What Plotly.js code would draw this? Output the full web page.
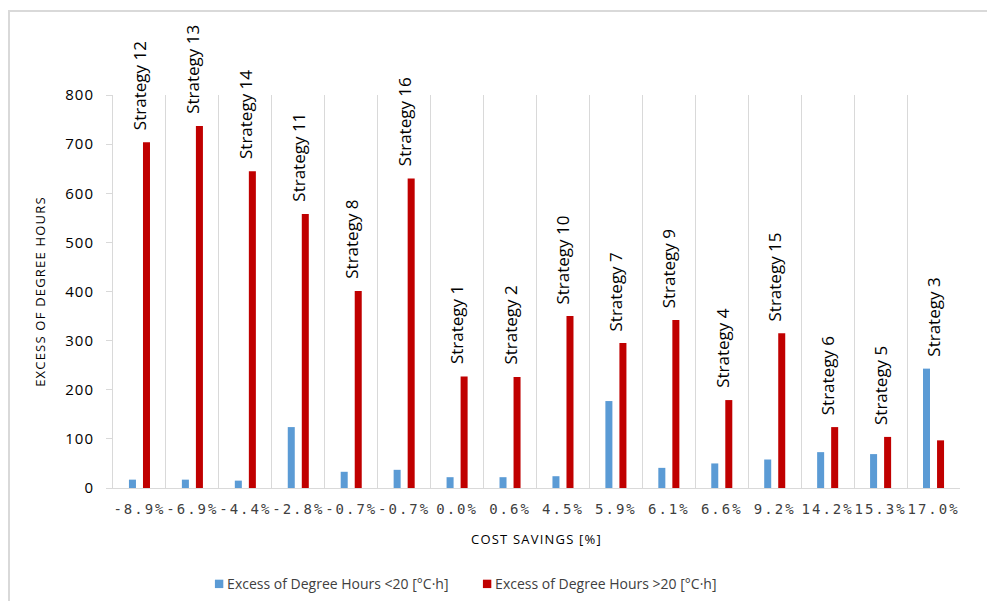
<!DOCTYPE html>
<html>
<head>
<meta charset="utf-8">
<script src="https://cdn.plot.ly/plotly-3.0.1.min.js"></script>
<style>
  html, body { margin: 0; padding: 0; background: #fff; }
  #wrap { position: relative; width: 987px; height: 601px; }
  #chart { width: 987px; height: 601px; }
  #frame { position: absolute; left: 8px; top: 10px; right: 0; bottom: 0;
           border-left: 2px solid #d9d9d9; border-top: 2px solid #d9d9d9; pointer-events: none; }
  .xtick text { letter-spacing: 2px; }
  .ytick text { letter-spacing: 1px; }
  .g-xtitle text, .g-ytitle text { letter-spacing: 1.2px; }
  .legend .scrollbox { clip-path: none !important; }
  .legend .legendpoints { transform: translate(18px, 0px) scale(0.7); }
</style>
</head>
<body>
<div id="wrap">
  <div id="chart"></div>
  <div id="frame"></div>
</div>
<script>
const categories = ["-8.9%","-6.9%","-4.4%","-2.8%","-0.7%","-0.7%","0.0%","0.6%","4.5%","5.9%","6.1%","6.6%","9.2%","14.2%","15.3%","17.0%"];
const strategies = ["Strategy 12","Strategy 13","Strategy 14","Strategy 11","Strategy 8","Strategy 16","Strategy 1","Strategy 2","Strategy 10","Strategy 7","Strategy 9","Strategy 4","Strategy 15","Strategy 6","Strategy 5","Strategy 3"];
const below20 = [17, 17, 15, 124, 33, 37, 22, 22, 24, 177, 41, 50, 58, 73, 69, 243];
const above20 = [704, 737, 645, 558, 401, 630, 227, 226, 350, 295, 342, 179, 315, 124, 104, 97];
const seriesNames = ["Excess of Degree Hours <20 [°C·h]", "Excess of Degree Hours >20 [°C·h]"];
const yTicks = [0, 100, 200, 300, 400, 500, 600, 700, 800];

const idx = categories.map((_, i) => i);
const font = "Open Sans, Noto Sans, sans-serif";

const traces = [
  { type: "bar", name: seriesNames[0], x: idx, y: below20, marker: { color: "#5B9BD5" } },
  { type: "bar", name: seriesNames[1], x: idx, y: above20, marker: { color: "#C00000" } }
];

const annotations = idx.map(i => ({
  x: i, y: Math.max(below20[i], above20[i]), xref: "x", yref: "y",
  text: strategies[i], textangle: -90, showarrow: false,
  xanchor: "center", yanchor: "bottom", yshift: 10,
  font: { family: font, size: 17, color: "#000" }
}));

const layout = {
  width: 987, height: 601,
  margin: { l: 113, r: 27, t: 95, b: 113, autoexpand: false },
  paper_bgcolor: "#fff", plot_bgcolor: "#fff",
  barmode: "group", bargap: 0.47, bargroupgap: 0.5,
  showlegend: true,
  legend: { orientation: "h", x: 0.0875, xanchor: "left", y: -0.245, yanchor: "middle",
            font: { family: font, size: 14, color: "#404040" }, entrywidth: 223 },
  xaxis: {
    range: [-0.5, 15.5], tickmode: "array", tickvals: idx, ticktext: categories,
    tickangle: 0, showgrid: false, zeroline: false, automargin: false,
    showline: true, linecolor: "#d9d9d9", linewidth: 1, ticks: "", ticklabelstandoff: 8,
    tickfont: { family: "DejaVu Sans Mono, monospace", size: 14, color: "#404040" },
    minor: { tickmode: "linear", tick0: -0.5, dtick: 1, showgrid: true, gridcolor: "#d9d9d9", gridwidth: 1, ticks: "" },
    title: { text: "COST SAVINGS [%]", font: { family: font, size: 13, color: "#000" }, standoff: 19 }
  },
  yaxis: {
    range: [0, 800], tickmode: "array", tickvals: yTicks, automargin: false,
    showgrid: false, zeroline: false, showline: true, linecolor: "#d9d9d9", linewidth: 1,
    ticks: "outside", ticklen: 6, tickcolor: "#d9d9d9", ticklabelstandoff: 9,
    tickfont: { family: font, size: 15, color: "#000" },
    title: { text: "EXCESS OF DEGREE HOURS", font: { family: font, size: 13, color: "#000" }, standoff: 16 }
  },
  annotations: annotations
};

Plotly.newPlot("chart", traces, layout, { displayModeBar: false, staticPlot: true });
</script>
</body>
</html>
